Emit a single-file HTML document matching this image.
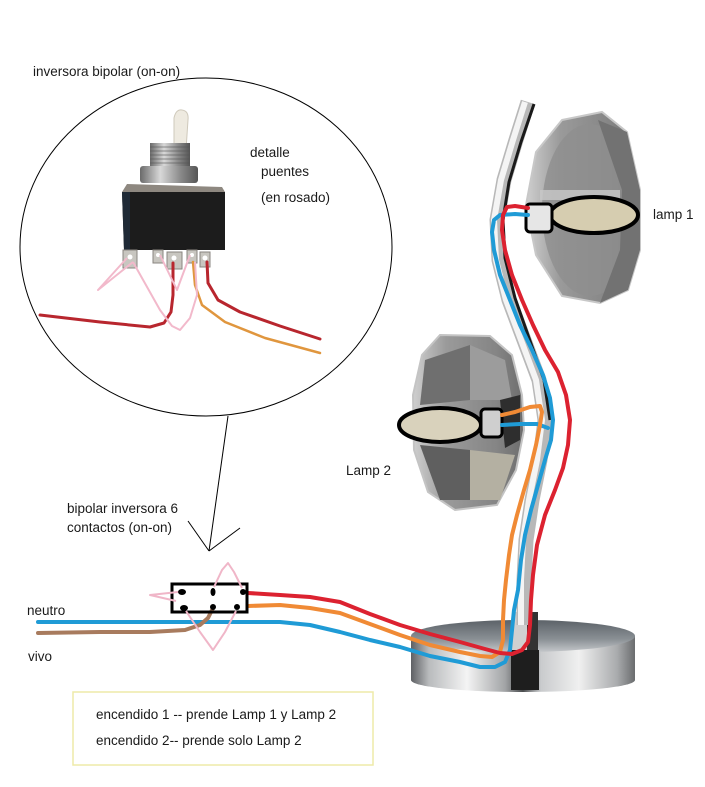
<!DOCTYPE html>
<html><head><meta charset="utf-8"><style>
html,body{margin:0;padding:0;background:#fff;}
svg{display:block;}
text{font-family:"Liberation Sans",sans-serif;fill:#1a1a1a;}
</style></head><body>
<svg width="705" height="787" viewBox="0 0 705 787" xmlns="http://www.w3.org/2000/svg">
<defs>
<linearGradient id="side" x1="0" y1="0" x2="1" y2="0">
<stop offset="0" stop-color="#5e6064"/>
<stop offset="0.08" stop-color="#b9bbbd"/>
<stop offset="0.25" stop-color="#f4f4f4"/>
<stop offset="0.42" stop-color="#a2a4a6"/>
<stop offset="0.5" stop-color="#4a4c4e"/>
<stop offset="0.58" stop-color="#c9cbcd"/>
<stop offset="0.75" stop-color="#f0f0f0"/>
<stop offset="0.92" stop-color="#a9abad"/>
<stop offset="1" stop-color="#6a6c6e"/>
</linearGradient>
<linearGradient id="top" x1="0" y1="0" x2="0" y2="1">
<stop offset="0" stop-color="#5c6268"/>
<stop offset="0.6" stop-color="#8a9095"/>
<stop offset="1" stop-color="#c4c7ca"/>
</linearGradient>
<linearGradient id="bush" x1="0" y1="0" x2="1" y2="0">
<stop offset="0" stop-color="#6a6a6a"/>
<stop offset="0.35" stop-color="#d8d8d8"/>
<stop offset="0.7" stop-color="#8a8a8a"/>
<stop offset="1" stop-color="#555"/>
</linearGradient>
<linearGradient id="glob" x1="0" y1="0" x2="1" y2="0">
<stop offset="0" stop-color="#cfcfcf"/>
<stop offset="0.3" stop-color="#9a9a9a"/>
<stop offset="0.75" stop-color="#858585"/>
<stop offset="1" stop-color="#6d6d6d"/>
</linearGradient>
</defs>

<!-- ========== circle detail ========== -->
<text x="33" y="76" font-size="13.5">inversora bipolar (on-on)</text>
<ellipse cx="206" cy="247" rx="186" ry="169" fill="none" stroke="#000" stroke-width="1"/>
<text x="250" y="157" font-size="13.5">detalle</text>
<text x="261" y="176" font-size="13.5">puentes</text>
<text x="261" y="202" font-size="13.5">(en rosado)</text>

<!-- toggle switch -->
<path d="M174,150 L174,118 Q176,109 182,110 Q189,111 188,120 L186,150 Z" fill="#eeeae0" stroke="#cfc9bb" stroke-width="1"/>
<rect x="150" y="143" width="40" height="24" fill="url(#bush)"/>
<g stroke="#555" stroke-width="1" opacity="0.6">
<line x1="150" y1="147" x2="190" y2="147"/><line x1="150" y1="151" x2="190" y2="151"/>
<line x1="150" y1="155" x2="190" y2="155"/><line x1="150" y1="159" x2="190" y2="159"/>
<line x1="150" y1="163" x2="190" y2="163"/>
</g>
<rect x="140" y="166" width="58" height="17" rx="3" fill="url(#bush)"/>
<path d="M127,184 L222,187 L225,192 L122,192 Z" fill="#8e8880"/>
<path d="M122,192 L225,192 L225,250 L124,250 Z" fill="#1c1c1c"/>
<path d="M122,192 L130,192 L130,250 L124,250 Z" fill="#1f2a36"/>
<g fill="#c8c6c0" stroke="#8a8680" stroke-width="1">
<rect x="123" y="250" width="14" height="18"/>
<rect x="153" y="250" width="10" height="13"/>
<rect x="167" y="252" width="15" height="17"/>
<rect x="187" y="250" width="10" height="13"/>
<rect x="200" y="252" width="10" height="15"/>
</g>
<g fill="#fff">
<circle cx="130" cy="257" r="2.5"/><circle cx="158" cy="255" r="2"/><circle cx="174" cy="258" r="2.5"/>
<circle cx="192" cy="255" r="2"/><circle cx="205" cy="258" r="2.5"/>
</g>
<!-- wires in circle -->
<polyline points="40,315 100,322 150,327 164,323 171,312 173,295 173,263" fill="none" stroke="#b8262e" stroke-width="3" stroke-linejoin="round" stroke-linecap="round"/>
<polyline points="193,262 195,285 202,305 225,322 265,338 320,353" fill="none" stroke="#e0963e" stroke-width="2.5" stroke-linejoin="round" stroke-linecap="round"/>
<polyline points="207,262 208,283 218,300 240,312 280,326 320,339" fill="none" stroke="#b8262e" stroke-width="3" stroke-linejoin="round" stroke-linecap="round"/>
<g fill="none" stroke="#f2b9cb" stroke-width="2" stroke-linejoin="round">
<polyline points="127,258 98,290 133,262"/>
<polyline points="133,262 160,310 172,326 180,330 190,318 197,295 195,262"/>
<polyline points="160,255 177,290 190,255"/>
</g>

<!-- pointer -->
<g stroke="#000" stroke-width="1" fill="none">
<line x1="228" y1="416" x2="209" y2="551"/>
<line x1="188" y1="521" x2="209" y2="551"/>
<line x1="240" y1="528" x2="209" y2="551"/>
</g>
<text x="67" y="513" font-size="13.5">bipolar inversora 6</text>
<text x="67" y="532" font-size="13.5">contactos (on-on)</text>

<!-- ========== lamp ========== -->
<!-- base -->
<path d="M411,636 L411,680 A112,12 0 0 0 635,680 L635,636 Z" fill="url(#side)"/>
<ellipse cx="523" cy="636" rx="112" ry="16" fill="url(#top)"/>
<rect x="511" y="650" width="28" height="40" fill="#1e1e1e"/>
<rect x="512" y="612" width="26" height="38" fill="#d0d0d0"/>
<rect x="527" y="612" width="11" height="38" fill="#333"/>

<!-- lamp 2 globe -->
<path d="M440,335 L490,336 L512,355 L522,395 L524,430 L516,470 L497,505 L455,510 L428,492 L414,450 L413,395 L422,355 Z" fill="url(#glob)" stroke="#c4c4c4" stroke-width="2"/>
<path d="M425,360 L470,345 L470,400 L420,405 Z" fill="#6f6f6f"/>
<path d="M470,345 L505,360 L512,400 L470,400 Z" fill="#9c9c9c"/>
<path d="M420,445 L470,450 L470,500 L440,500 Z" fill="#5f5f5f"/>
<path d="M470,450 L515,455 L500,500 L470,500 Z" fill="#b4b0a2"/>
<path d="M500,400 L520,395 L520,440 L505,448 Z" fill="#2e2e2e"/>

<!-- stand -->
<polyline points="528,102 516,140 504,180 497,220 499,260 509,300 524,340 539,380 545,420 540,460 532,500 526,540 524,580 524,625" fill="none" stroke="#b8b8b8" stroke-width="15" stroke-linejoin="round"/>
<polyline points="525,102 513,140 501,180 494,220 496,260 506,300 521,340 536,380 542,420 537,460 529,500 523,540 521,580 521,625" fill="none" stroke="#f4f4f4" stroke-width="6" stroke-linejoin="round"/>
<polyline points="534,104 521,142 509,182 503,220 505,258 515,298 529,338 544,380 550,420" fill="none" stroke="#1a1a1a" stroke-width="3" stroke-linejoin="round"/>

<!-- lamp 1 globe -->
<path d="M562,120 L602,112 L627,132 L640,190 L640,250 L628,290 L600,303 L562,296 L536,255 L526,205 L536,152 Z" fill="url(#glob)" stroke="#c8c8c8" stroke-width="2"/>
<ellipse cx="590" cy="210" rx="48" ry="86" fill="#8e8e8e" opacity="0.8"/>
<path d="M598,120 L627,132 L640,190 L640,250 L628,290 L600,303 L620,250 L622,190 Z" fill="#727272"/>
<rect x="540" y="190" width="80" height="10" fill="#c8c8c8" opacity="0.8"/>

<!-- lamp 1 oval + connector -->
<ellipse cx="594" cy="215" rx="44" ry="18" fill="#d6cdb0" stroke="#000" stroke-width="4"/>
<rect x="526" y="204" width="26" height="28" rx="4" fill="#e6e6e6" stroke="#000" stroke-width="3"/>
<text x="653" y="219" font-size="13.5">lamp 1</text>

<!-- lamp 2 oval + connector -->
<ellipse cx="440" cy="425" rx="41" ry="17" fill="#d9d2bc" stroke="#000" stroke-width="4"/>
<rect x="481" y="409" width="21" height="28" rx="4" fill="#cfcfcf" stroke="#000" stroke-width="3"/>
<text x="346" y="475" font-size="13.5">Lamp 2</text>

<!-- ========== main wires ========== -->
<g fill="none" stroke-width="4" stroke-linejoin="round" stroke-linecap="round">
<polyline stroke="#1f9bd6" points="38,622 280,622 310,625 340,632 370,640 400,647 430,656 460,662 480,667 495,667 505,662 510,650 512,630 514,610 518,590 521,560 525,535 531,510 538,485 545,460 551,440 553,420 550,398 543,375 532,350 520,325 510,300 500,275 494,250 492,232 494,220 500,215 515,214 528,215"/>
<polyline stroke="#1f9bd6" points="502,425 520,424 537,424 548,428"/>
<polyline stroke="#f08a35" points="248,606 280,605 310,608 340,613 370,624 400,635 430,645 460,652 480,656 492,657 500,652 503,640 503,620 504,600 506,580 509,555 512,535 517,515 524,490 530,470 536,445 540,425 542,412 540,406 530,407 515,412 502,415"/>
<polyline stroke="#dc2230" points="248,593 280,595 310,597 340,602 370,614 400,625 430,634 460,642 485,649 500,653 512,654 522,650 528,642 530,625 531,600 533,575 537,545 545,515 555,490 563,468 568,445 570,420 566,395 558,372 545,350 533,325 522,300 512,275 505,250 502,230 503,215 507,207 515,206 528,208"/>
<polyline stroke="#a87b5e" points="38,633 100,632 150,632 185,630 200,625 208,618 213,608"/>
</g>

<!-- switch box -->
<rect x="172" y="584" width="75" height="28" fill="none" stroke="#000" stroke-width="3"/>
<g fill="#000">
<ellipse cx="182" cy="592" rx="4" ry="3"/>
<ellipse cx="213" cy="592" rx="2.5" ry="4"/>
<ellipse cx="243" cy="592" rx="3" ry="3"/>
<ellipse cx="184" cy="608" rx="4" ry="3"/>
<ellipse cx="213" cy="607" rx="3" ry="3"/>
<ellipse cx="237" cy="607" rx="3" ry="3"/>
</g>
<g fill="none" stroke="#f0b6c8" stroke-width="2" stroke-linejoin="round">
<polyline points="178,592 150,595 176,601"/>
<polyline points="214,587 222,570 228,563 234,572 242,588"/>
<polyline points="186,611 200,632 213,650 225,632 236,611"/>
</g>
<text x="27" y="615" font-size="13.5">neutro</text>
<text x="28" y="661" font-size="13.5">vivo</text>

<!-- legend -->
<rect x="73" y="692" width="300" height="73" fill="#fff" stroke="#eeeaa8" stroke-width="1.5"/>
<text x="96" y="719" font-size="13.5">encendido 1 -- prende Lamp 1 y Lamp 2</text>
<text x="96" y="745" font-size="13.5">encendido 2-- prende solo Lamp 2</text>
</svg>
</body></html>
